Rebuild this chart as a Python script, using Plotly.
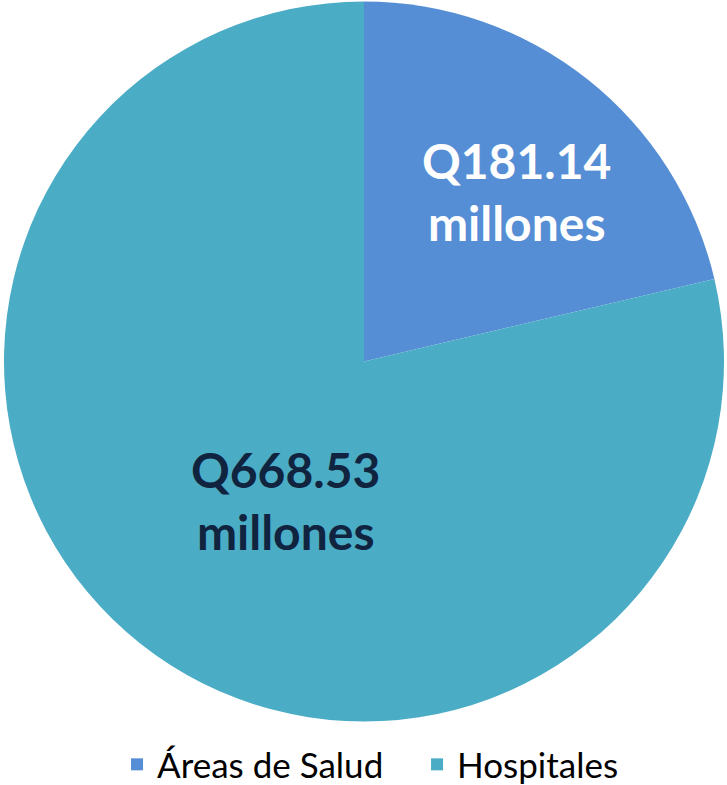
import math
import plotly.graph_objects as go

labels = ["Áreas de Salud", "Hospitales"]
values = [181.14, 668.53]
text_labels = ["Q181.14<br>millones", "Q668.53<br>millones"]
colors = ["#558ED5", "#4BACC6"]
text_colors = ["#FFFFFF", "#10243F"]

# label placement style (radius fraction, angular offset in degrees)
label_rfrac = [0.635, 0.445]
label_aoff = [3.5, -8.9]

W, H = 727, 785
ML, MR, MT, MB = 4, 3, 1, 63

fig = go.Figure(go.Pie(
    labels=labels,
    values=values,
    textinfo="none",
    sort=False,
    direction="clockwise",
    rotation=0,
    marker=dict(colors=colors, line=dict(width=0)),
    hoverinfo="label+value",
))

# annotations positioned from the slice angles
pw, ph = W - ML - MR, H - MT - MB
R = min(pw, ph) / 2
total = sum(values)
cum = 0
for i, v in enumerate(values):
    mid = (cum + v / 2) / total * 360 + label_aoff[i]
    cum += v
    r = R * label_rfrac[i]
    dx = r * math.sin(math.radians(mid))
    dy = r * math.cos(math.radians(mid))
    fig.add_annotation(
        x=0.5 + dx / pw, y=0.5 + dy / ph, xref="paper", yref="paper",
        text=text_labels[i], showarrow=False, align="center",
        xanchor="center", yanchor="middle",
        font=dict(family="Lato", size=48, color=text_colors[i], weight="bold"),
    )

fig.update_layout(
    width=W, height=H,
    margin=dict(l=ML, r=MR, t=MT, b=MB),
    paper_bgcolor="white",
    plot_bgcolor="white",
    showlegend=True,
    legend=dict(
        orientation="h",
        x=0.157, xanchor="left",
        yref="container", y=0.026, yanchor="middle",
        font=dict(family="Lato", size=35, color="#000000"),
        entrywidth=255, entrywidthmode="pixels",
    ),
)

fig.write_html("out.html")
